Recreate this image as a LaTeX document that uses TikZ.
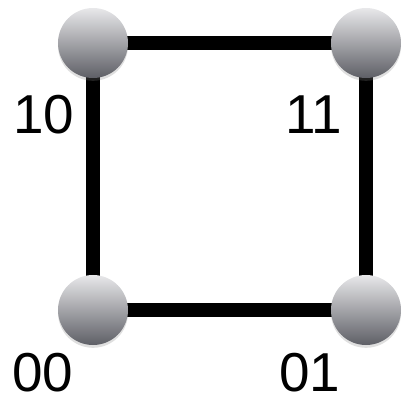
\documentclass[tikz,border=0pt]{standalone}
\usepackage{fontspec}
\setmainfont{Liberation Sans}
\usetikzlibrary{shadows}
\definecolor{ballTop}{HTML}{E8E8EA}
\definecolor{ballMid}{HTML}{BDBDC0}
\definecolor{ballBottom}{HTML}{5E5F66}

\begin{document}
\begin{tikzpicture}[
  x=0.025cm, y=-0.025cm,
  ball/.style={circle, minimum size=1.75cm, inner sep=0pt, top color=ballTop, middle color=ballMid,
               bottom color=ballBottom,
               drop shadow={shadow xshift=0pt, shadow yshift=-2pt, opacity=0.25}},
  edge/.style={line width=10pt, draw=black},
  lbl/.style={font=\fontsize{39}{39}\selectfont, inner sep=0pt}
]
\useasboundingbox (0,0) rectangle (402,400);
\coordinate (c10) at (93,43);
\coordinate (c11) at (366,43);
\coordinate (c00) at (93,310);
\coordinate (c01) at (366,310);

\draw[edge] (c10) -- (c11) -- (c01) -- (c00) -- cycle;

\node[ball] (n10) at (c10) {};
\node[ball] (n11) at (c11) {};
\node[ball] (n00) at (c00) {};
\node[ball] (n01) at (c01) {};

\node[lbl] (l10) at (44,115) {10};
\node[lbl] (l11) at (314,115) {11};
\node[lbl] (l00) at (43,373) {00};
\node[lbl] (l01) at (310,373) {01};
\end{tikzpicture}
\end{document}
